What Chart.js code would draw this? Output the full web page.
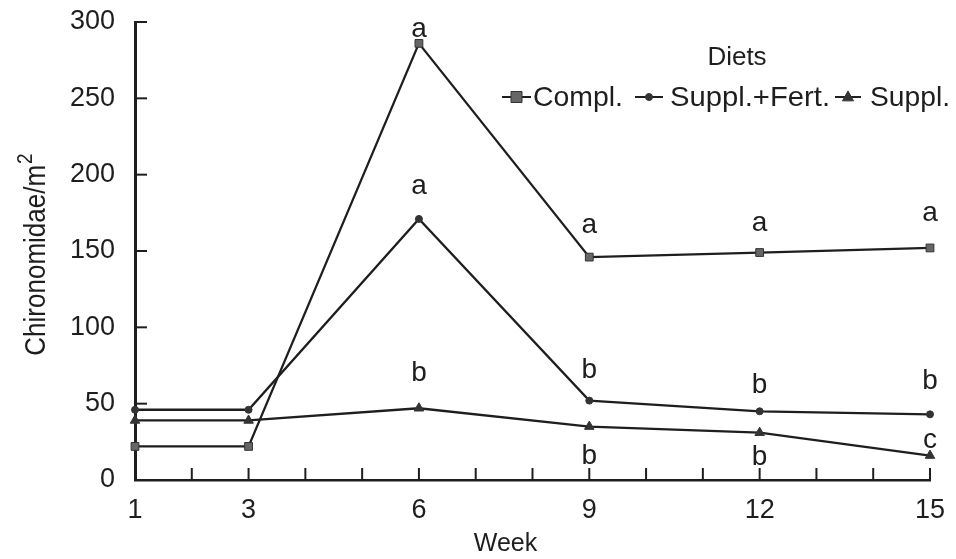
<!DOCTYPE html>
<html>
<head>
<meta charset="utf-8">
<script src="https://cdn.jsdelivr.net/npm/chart.js@4/dist/chart.umd.min.js"></script>
<style>
  html, body { margin: 0; padding: 0; background: #fff; }
  #wrap { width: 956px; height: 559px; }
</style>
</head>
<body>
<div id="wrap"><canvas id="c" width="956" height="559"></canvas></div>
<script>
// Sampling weeks and labelled weeks on the x axis
const weeks = [1, 3, 6, 9, 12, 15];
const weekLabels = [1, 3, 6, 9, 12, 15];

// Chironomidae density (individuals per m²) for each diet
const complete  = [22, 22, 286, 146, 149, 152];
const supplFert = [46, 46, 171, 52, 45, 43];
const suppl     = [39, 39, 47, 35, 31, 16];

// Significance letters for each sampling week
const completeLetters  = ['', '', 'a', 'a', 'a', 'a'];
const supplFertLetters = ['', '', 'a', 'b', 'b', 'b'];
const supplLetters     = ['', '', 'b', 'b', 'b', 'c'];

const seriesNames = ['Compl.', 'Suppl.+Fert.', 'Suppl.'];

const INK = '#1e1e1e';
const FONT = '"Liberation Sans", Arial, Helvetica, sans-serif';

const toPoints = vals => weeks.map((w, i) => ({ x: w, y: vals[i] }));

// Vertical offset (px, negative = above) of each letter relative to its point
const letterOffsets = [
  [0, 0, -14, -32, -29, -35],
  [0, 0, -33, -30, -26, -33],
  [0, 0, -35, 30, 25, -15]
];
const letterSets = [completeLetters, supplFertLetters, supplLetters];

function drawMarker(ctx, style, r, x, y) {
  if (style === 'rect') {
    ctx.rect(x - r, y - r, 2 * r, 2 * r);
  } else if (style === 'triangle') {
    ctx.moveTo(x, y - r * 1.1);
    ctx.lineTo(x + r, y + r * 0.7);
    ctx.lineTo(x - r, y + r * 0.7);
    ctx.closePath();
  } else {
    ctx.arc(x, y, r, 0, Math.PI * 2);
  }
}

// Text fitted horizontally to a given width
function wideText(ctx, text, x, y, width) {
  const w = ctx.measureText(text).width;
  ctx.save();
  ctx.translate(x, y);
  ctx.scale(width / w, 1);
  ctx.fillText(text, 0, 0);
  ctx.restore();
}

const decorations = {
  id: 'decorations',
  afterDatasetsDraw(chart) {
    const ctx = chart.ctx;
    const xs = chart.scales.x, ys = chart.scales.y;
    const area = chart.chartArea;
    ctx.save();
    ctx.strokeStyle = INK;
    ctx.fillStyle = INK;

    // inward tick marks
    ctx.lineWidth = 2;
    for (let w = 1; w <= 15; w++) {
      const px = xs.getPixelForValue(w);
      ctx.beginPath();
      ctx.moveTo(px, area.bottom);
      ctx.lineTo(px, area.bottom - 12);
      ctx.stroke();
    }
    for (let v = 50; v <= 300; v += 50) {
      const py = ys.getPixelForValue(v);
      ctx.beginPath();
      ctx.moveTo(area.left, py);
      ctx.lineTo(area.left + 12, py);
      ctx.stroke();
    }

    // significance letters
    ctx.font = '28px ' + FONT;
    ctx.textAlign = 'center';
    ctx.textBaseline = 'middle';
    chart.data.datasets.forEach((ds, di) => {
      const meta = chart.getDatasetMeta(di);
      letterSets[di].forEach((t, i) => {
        if (!t) return;
        const el = meta.data[i];
        ctx.fillText(t, el.x, el.y + letterOffsets[di][i]);
      });
    });

    // axis titles
    ctx.font = '25px ' + FONT;
    ctx.textBaseline = 'alphabetic';
    ctx.fillText('Week', (area.left + area.right) / 2 - 27, 551);

    ctx.save();
    const cy = (area.top + area.bottom) / 2;
    ctx.translate(45, cy);
    ctx.rotate(-Math.PI / 2);
    ctx.scale(1, 1.12);
    ctx.font = '26px ' + FONT;
    const main = 'Chironomidae/m';
    const w1 = ctx.measureText(main).width;
    ctx.font = '19px ' + FONT;
    const w2 = ctx.measureText('2').width;
    const start = -(w1 + w2) / 2 - 4;
    ctx.textAlign = 'left';
    ctx.font = '26px ' + FONT;
    ctx.fillText(main, start, 0);
    ctx.font = '19px ' + FONT;
    ctx.fillText('2', start + w1 + 1, -12);
    ctx.restore();

    // legend
    ctx.font = '26px ' + FONT;
    ctx.textAlign = 'center';
    ctx.textBaseline = 'middle';
    ctx.fillText('Diets', 737, 58);
    ctx.textAlign = 'left';
    ctx.font = '28px ' + FONT;
    // [line start, line end, text start, text width]
    const legendPos = [[502, 531, 533, 90], [635, 663, 670, 160], [835, 861, 870, 80]];
    const ly = 97;
    chart.data.datasets.forEach((ds, di) => {
      const [l0, l1, tx, tw] = legendPos[di];
      ctx.lineWidth = 2;
      ctx.strokeStyle = INK;
      ctx.beginPath();
      ctx.moveTo(l0, ly);
      ctx.lineTo(l1, ly);
      ctx.stroke();
      ctx.fillStyle = ds.pointBackgroundColor;
      ctx.strokeStyle = ds.pointBorderColor;
      ctx.lineWidth = ds.pointBorderWidth;
      ctx.beginPath();
      drawMarker(ctx, ds.pointStyle, ds.pointRadius, (l0 + l1) / 2, ly);
      ctx.fill();
      ctx.stroke();
      ctx.fillStyle = INK;
      wideText(ctx, ds.label, tx, ly + 1, tw);
    });
    ctx.restore();
  }
};

const base = {
  borderColor: INK,
  borderWidth: 2.3,
  tension: 0,
  clip: false,
  pointBorderColor: '#333',
  pointBorderWidth: 1
};

new Chart(document.getElementById('c'), {
  type: 'line',
  data: {
    datasets: [
      Object.assign({}, base, {
        label: seriesNames[0],
        data: toPoints(complete),
        pointStyle: 'rect',
        pointRadius: 5.5,
        pointBackgroundColor: '#666'
      }),
      Object.assign({}, base, {
        label: seriesNames[1],
        data: toPoints(supplFert),
        pointStyle: 'circle',
        pointRadius: 3.5,
        pointBackgroundColor: '#333'
      }),
      Object.assign({}, base, {
        label: seriesNames[2],
        data: toPoints(suppl),
        pointStyle: 'triangle',
        pointRadius: 5.5,
        pointBackgroundColor: '#333'
      })
    ]
  },
  options: {
    responsive: false,
    animation: false,
    layout: { padding: { left: 0, top: 22, right: 26, bottom: 0 } },
    plugins: {
      legend: { display: false },
      tooltip: { enabled: false },
      title: { display: false }
    },
    scales: {
      x: {
        type: 'linear',
        min: 1,
        max: 15,
        grid: { display: false, drawTicks: false },
        border: { display: true, color: INK, width: 2.5 },
        ticks: {
          stepSize: 1,
          autoSkip: false,
          maxRotation: 0,
          padding: 14,
          color: INK,
          font: { family: FONT, size: 27 },
          callback: v => weekLabels.includes(v) ? String(v) : ''
        },
        afterFit: s => { s.height = 79; s.paddingLeft = 0; s.paddingRight = 0; }
      },
      y: {
        min: 0,
        max: 300,
        grid: { display: false, drawTicks: false },
        border: { display: true, color: INK, width: 3 },
        ticks: {
          stepSize: 50,
          padding: 20,
          color: INK,
          font: { family: FONT, size: 27 }
        },
        afterFit: s => { s.width = 135; s.paddingTop = 0; s.paddingBottom = 0; }
      }
    }
  },
  plugins: [decorations]
});
</script>
</body>
</html>
